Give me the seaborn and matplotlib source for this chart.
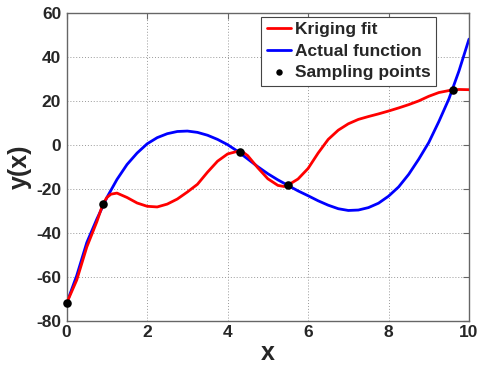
import numpy as np
import pandas as pd
import matplotlib
matplotlib.use("Agg")
import matplotlib.pyplot as plt
import seaborn as sns

# Actual function, read along x
actual_x = [0.0, 0.25, 0.5, 0.75, 1.0, 1.25, 1.5, 1.75, 2.0, 2.25, 2.5, 2.75,
            3.0, 3.25, 3.5, 3.75, 4.0, 4.25, 4.5, 4.75, 5.0, 5.25, 5.5, 5.75,
            6.0, 6.25, 6.5, 6.75, 7.0, 7.25, 7.5, 7.75, 8.0, 8.25, 8.5, 8.75,
            9.0, 9.25, 9.5, 9.75, 10.0]
actual_y = [-72.0, -59.5, -44.5, -33.8, -24.0, -15.8, -9.0, -3.8, 0.4, 3.2,
            5.0, 6.0, 6.2, 5.6, 4.3, 2.4, 0.0, -3.0, -6.5, -10.0, -13.2, -16.0,
            -18.5, -21.0, -23.2, -25.5, -27.5, -29.1, -29.9, -29.7, -28.6,
            -26.6, -23.4, -19.2, -13.5, -6.6, 1.0, 10.5, 20.8, 33.5, 48.0]

# Kriging prediction
kriging_x = [0.0, 0.25, 0.5, 0.75, 0.9, 1.0, 1.1, 1.25, 1.5, 1.75, 2.0, 2.25,
             2.5, 2.75, 3.0, 3.25, 3.5, 3.75, 4.0, 4.25, 4.4, 4.5, 4.75, 5.0,
             5.25, 5.4, 5.5, 5.75, 6.0, 6.25, 6.5, 6.75, 7.0, 7.25, 7.5, 7.75,
             8.0, 8.25, 8.5, 8.75, 9.0, 9.25, 9.5, 9.6, 9.75, 10.0]
kriging_y = [-72.0, -61.5, -46.5, -35.0, -27.0, -24.0, -22.5, -22.0, -24.0,
             -26.5, -28.0, -28.3, -27.0, -24.7, -21.5, -18.0, -12.5, -7.5,
             -4.2, -3.0, -3.6, -5.0, -10.5, -15.5, -18.5, -19.0, -18.4, -15.6,
             -10.8, -3.8, 2.4, 6.6, 9.5, 11.5, 12.8, 14.0, 15.3, 16.7, 18.2,
             19.9, 22.0, 23.7, 24.6, 24.9, 25.1, 25.0]

# Sampling points
sample_x = [0.0, 0.9, 4.3, 5.5, 9.6]
sample_y = [-72.0, -27.0, -3.2, -18.4, 24.8]

x_ticks = [0, 2, 4, 6, 8, 10]
y_ticks = [-80, -60, -40, -20, 0, 20, 40, 60]

sns.set_style("white")
plt.rcParams["font.family"] = ["Liberation Sans", "DejaVu Sans"]
plt.rcParams["font.weight"] = "bold"
plt.rcParams["axes.unicode_minus"] = False

fig = plt.figure(figsize=(4.78, 3.67), dpi=100)
ax = fig.add_axes([0.1395, 0.1262, 0.8417, 0.8392])

df_act = pd.DataFrame({"x": actual_x, "y": actual_y})
df_kri = pd.DataFrame({"x": kriging_x, "y": kriging_y})
df_smp = pd.DataFrame({"x": sample_x, "y": sample_y})

sns.lineplot(data=df_kri, x="x", y="y", ax=ax, color="#ff0000", lw=2,
             label="Kriging fit", sort=True, zorder=3)
sns.lineplot(data=df_act, x="x", y="y", ax=ax, color="#0000ff", lw=2,
             label="Actual function", sort=True, zorder=2)
sns.scatterplot(data=df_smp, x="x", y="y", ax=ax, color="black", s=38,
                edgecolor="black", linewidth=0, label="Sampling points",
                zorder=4, clip_on=False)

ax.set_xlim(0, 10)
ax.set_ylim(-80, 60)
ax.set_xticks(x_ticks)
ax.set_yticks(y_ticks)
ax.set_xticklabels([str(v) for v in x_ticks], fontsize=12.5, fontweight="bold")
ax.set_yticklabels([str(v) for v in y_ticks], fontsize=12.5, fontweight="bold")
ax.tick_params(direction="in", length=4, width=0.8, color="#666666",
               top=True, right=True)
ax.tick_params(axis="x", pad=3)
ax.tick_params(axis="y", pad=4)
ax.grid(True, linestyle=(0, (1, 2)), color="#999999", linewidth=0.7)
for sp in ax.spines.values():
    sp.set_color("#666666")
    sp.set_linewidth(1.0)

ax.set_xlabel("x", fontsize=18, fontweight="bold", labelpad=1)
ax.set_ylabel("y(x)", fontsize=18, fontweight="bold", labelpad=3)

leg = ax.legend(loc="upper right", bbox_to_anchor=(0.912, 0.955),
                bbox_transform=fig.transFigure,
                prop={"weight": "bold", "size": 12.5},
                frameon=True, fancybox=False, framealpha=1,
                edgecolor="#444444", handlelength=1.4, handletextpad=0.2,
                borderpad=0.32, labelspacing=0.36, borderaxespad=0,
                markerscale=0.75)
leg.get_frame().set_linewidth(0.8)

fig.savefig("out.png", dpi=100)
